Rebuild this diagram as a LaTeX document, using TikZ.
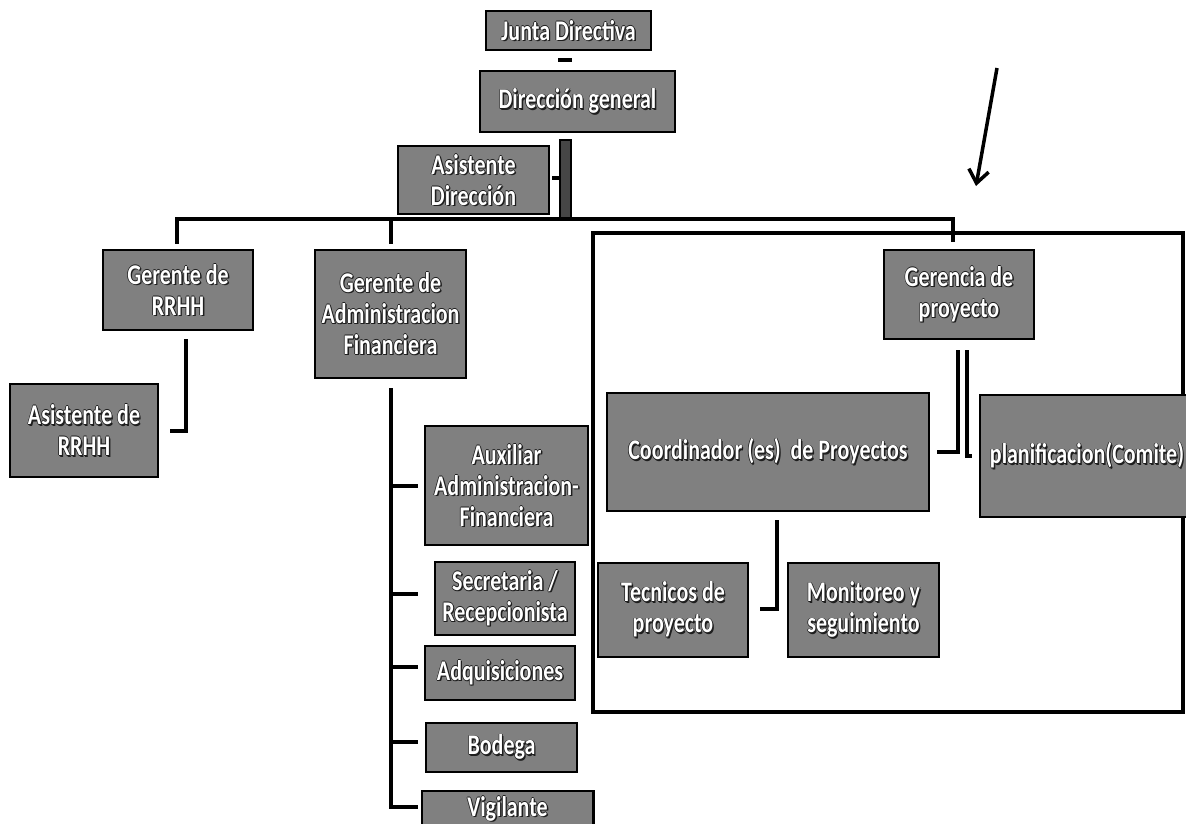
\documentclass[tikz,border=0pt]{standalone}
\usepackage{fontspec}
\newfontfamily\bx{Carlito}[FakeStretch=0.77]
\usetikzlibrary{arrows.meta,calc}
\definecolor{boxgray}{RGB}{128,128,128}
\definecolor{shadowc}{RGB}{30,30,30}
\definecolor{bargray}{RGB}{70,70,70}
\newcommand\shcopy[3]{\rlap{\kern#1\raisebox{#2}{\textcolor{shadowc}{#3}}}}
\newcommand\sh[1]{\leavevmode\shcopy{1.4pt}{-1.4pt}{#1}\shcopy{0.7pt}{0pt}{#1}\shcopy{-0.7pt}{0pt}{#1}\shcopy{0pt}{0.7pt}{#1}\shcopy{0pt}{-0.7pt}{#1}#1}
\begin{document}
\begin{tikzpicture}[x=1pt,y=-1pt,
  orgbox/.style={draw=black, line width=2.5pt, fill=boxgray, text=white,
    font=\bx\bfseries\fontsize{28.5}{31}\selectfont, align=center, inner sep=0pt},
  link/.style={line width=4pt, black},
  thinlink/.style={line width=3.2pt, black},
  frame/.style={line width=4pt, black},
  pointer/.style={line width=3.5pt, black, -{Straight Barb[length=13pt,width=20pt,line width=3.5pt]}}
  ]
\clip (0,0) rectangle (1186,824);
\fill[white] (0,0) rectangle (1186,824);

% frame of the project area
\draw[frame] (593,233) rectangle (1183,712);

% nodes
\node[orgbox, minimum width=165, minimum height=39] (junta) at (568.5,30.5) {\sh{Junta Directiva}};
\node[orgbox, minimum width=195, minimum height=61] (dir) at (577.5,101.5) {\sh{Dirección general}};
\node[orgbox, minimum width=151, minimum height=68] (asdir) at (473.5,180) {\sh{Asistente}\\\sh{Dirección}};
\node[orgbox, minimum width=150, minimum height=80] (gerrh) at (178,290) {\sh{Gerente de}\\\sh{RRHH}};
\node[orgbox, minimum width=151, minimum height=128] (geradm) at (390.5,314) {\sh{Gerente de}\\\sh{Administracion}\\\sh{Financiera}};
\node[orgbox, minimum width=148, minimum height=93] (asrh) at (84,430.5) {\sh{Asistente de}\\\sh{RRHH}};
\node[orgbox, minimum width=163, minimum height=119] (aux) at (506.5,485.5) {\sh{Auxiliar}\\\sh{Administracion-}\\\sh{Financiera}};
\node[orgbox, minimum width=140, minimum height=73] (sec) at (505,598.5) {\sh{Secretaria /}\\\sh{Recepcionista}};
\node[orgbox, minimum width=150, minimum height=54] (adq) at (500,673) {\sh{Adquisiciones}};
\node[orgbox, minimum width=151, minimum height=49] (bod) at (501.5,747.5) {\sh{Bodega}};
\node[orgbox, draw=none, minimum width=169, minimum height=34] (vig) at (507.5,809) {\sh{Vigilante}};
\draw[black, line width=2.5pt] ($(vig.south west)+(0,6)$) |- (vig.north east) -- ($(vig.south east)+(0,6)$);
\node[orgbox, minimum width=150, minimum height=89] (gerp) at (959,294.5) {\sh{Gerencia de}\\\sh{proyecto}};
\node[orgbox, minimum width=322, minimum height=118] (coord) at (768,452) {\sh{Coordinador (es) \ de Proyectos}};
\node[orgbox, minimum width=214, minimum height=122] (plan) at (1087,456) {\sh{planificacion(Comite)}};
\node[orgbox, minimum width=150, minimum height=94] (tec) at (673,610) {\sh{Tecnicos de}\\\sh{proyecto}};
\node[orgbox, minimum width=151, minimum height=94] (mon) at (863.5,610) {\sh{Monitoreo y}\\\sh{seguimiento}};

% top connectors
\coordinate (jd1) at (558,60);
\coordinate (jd2) at (572,60);
\draw[link] (jd1) -- (jd2);
\draw[line width=1.6pt, black, fill=bargray] (560,140) rectangle (571,220);
\coordinate (ad1) at (552,178);
\coordinate (ad2) at (560,178);
\draw[thinlink] (ad1) -- (ad2);

% main bus
\coordinate (busL) at ($(gerrh.north)+(-1,-30)$);
\draw[link] ($(gerrh.north)+(-1,-5)$) -- (busL) -- ($(gerp.north)+(-6,-30)$) -- ($(gerp.north)+(-6,-7)$);
\draw[link] ($(geradm.north)+(0.5,-30)$) -- ($(geradm.north)+(0.5,-5)$);

% RRHH
\coordinate (r1) at (186,339);
\coordinate (r3) at (170,431);
\draw[link] (r1) |- (r3);

% Administracion column
\coordinate (a0) at (391,388);
\coordinate (a5) at (418,807);
\draw[link] (a0) |- (a5);
\foreach \yy in {486,594,667,742}{
  \draw[link] (391,\yy) -- (418,\yy);
}

% Gerencia de proyecto double lines
\coordinate (g1) at (958,350);
\coordinate (g2) at (937,452);
\coordinate (g3) at (967,350);
\coordinate (g4) at (972,456);
\draw[thinlink] (g1) |- (g2);
\draw[thinlink] (g3) |- (g4);

% Coordinador to tecnicos / monitoreo
\coordinate (c1) at (777,520);
\coordinate (c2) at (760,609);
\draw[link] (c1) |- (c2);

% pointer arrow
\coordinate (p1) at (997,68);
\coordinate (p2) at (976,186);
\draw[pointer] (p1) -- (p2);
\end{tikzpicture}
\end{document}
